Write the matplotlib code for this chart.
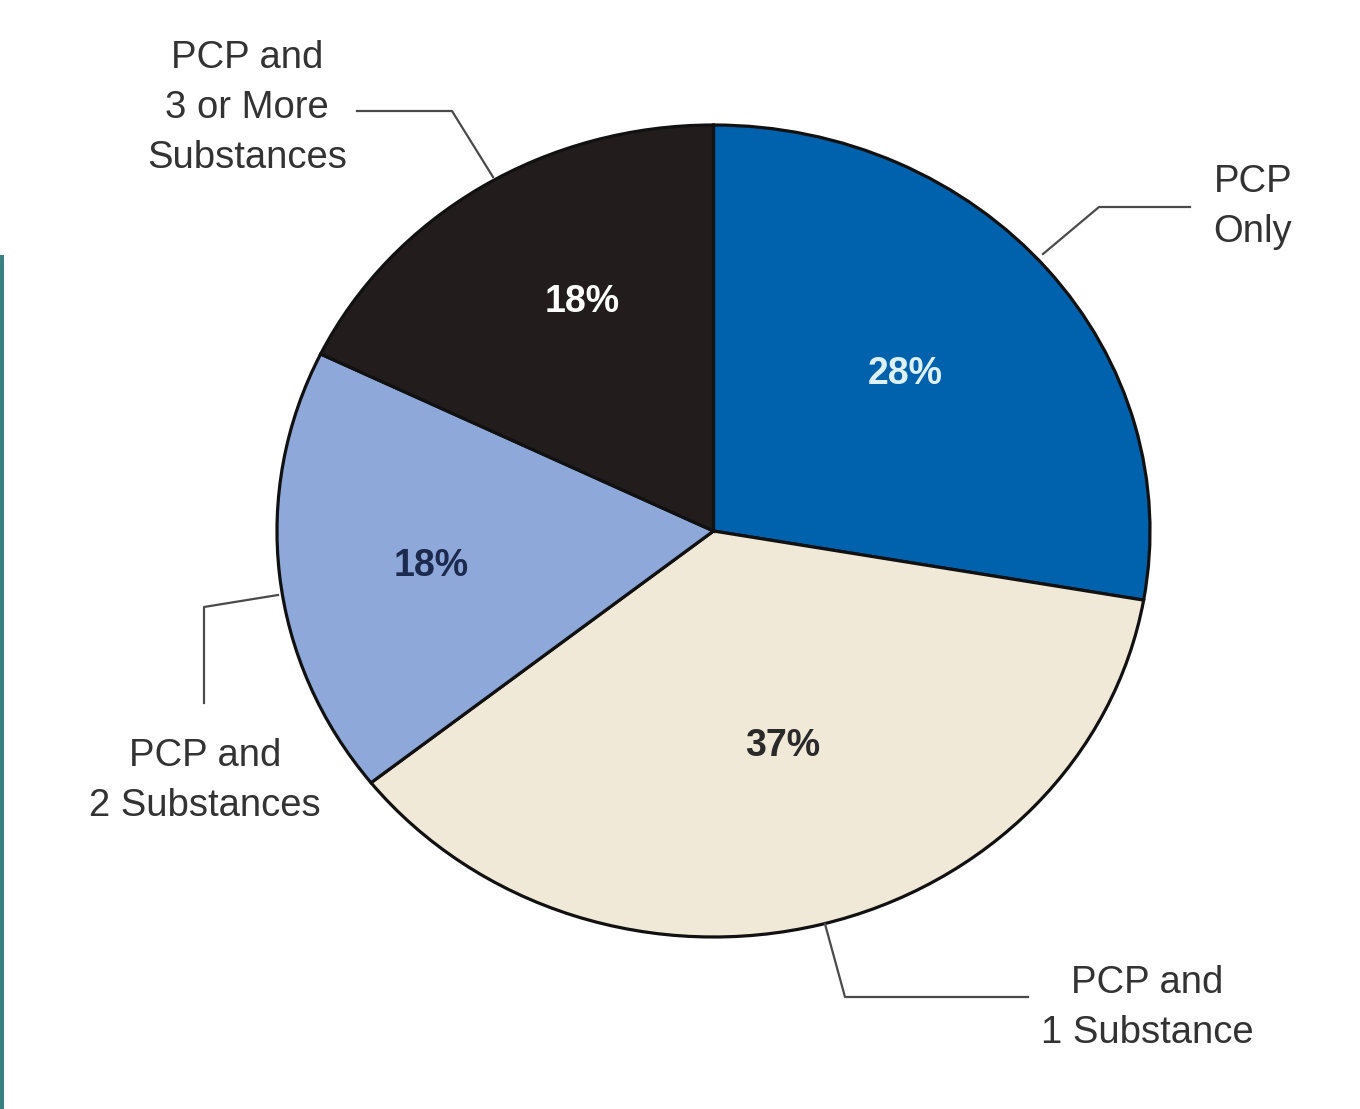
import matplotlib
matplotlib.use("Agg")
import matplotlib.pyplot as plt
import numpy as np
from matplotlib.patches import Rectangle

# ---- data ----
categories = ["PCP\nOnly", "PCP and\n1 Substance", "PCP and\n2 Substances",
              "PCP and\n3 or More\nSubstances"]
values = [28, 37, 18, 18]
pct_labels = ["28%", "37%", "18%", "18%"]
colors = ["#0061AD", "#F1E9D8", "#8EA8DA", "#221C1C"]
pct_colors = ["#DDF0FF", "#2A2A2A", "#1C2A4E", "#FFFFFF"]

W, H = 1360, 1109
fig = plt.figure(figsize=(W / 100, H / 100), dpi=100)
fig.patch.set_facecolor("white")

# pie centre and radii in pixels (the reference pie is slightly elliptical)
cx, cy, rx, ry = 713.5, 531, 436.5, 406
ax = fig.add_axes([0, 0, 1, 1])

wedges, _ = ax.pie(values, colors=colors, startangle=90, counterclock=False,
                   radius=1.0, center=(0, 0),
                   wedgeprops=dict(edgecolor="#111111", linewidth=2.3))
ax.set_xlim(-cx / rx, (W - cx) / rx)
ax.set_ylim(-(H - cy) / ry, cy / ry)
ax.set_aspect("auto")
ax.axis("off")

font = "Liberation Sans"
# percentage labels inside slices (radius fraction, angle nudge in degrees)
pct_r = [0.585, 0.553, 0.652, 0.64]
pct_da = [1.4, 2.3, 1.4, -4.0]
for w, lab, col, r, da in zip(wedges, pct_labels, pct_colors, pct_r, pct_da):
    mid = np.deg2rad((w.theta1 + w.theta2) / 2 + da)
    ax.text(r * np.cos(mid), r * np.sin(mid), lab, ha="center", va="center",
            fontsize=27, fontweight="bold", color=col, family=font)

def fx(x):
    return x / W

def fy(y):
    return 1 - y / H

# outer labels (pixel positions of text centres)
label_pos = [(1253, 207), (1147, 1008), (205, 781), (247, 108)]
for lab, (x, y) in zip(categories, label_pos):
    fig.text(fx(x), fy(y), lab, ha="center", va="center", fontsize=27.5,
             color="#333333", family=font, linespacing=1.5)

# leader lines
leaders = [
    [(1043, 254), (1099, 207), (1190, 207)],
    [(825, 924), (845, 997), (1028, 997)],
    [(278, 595), (204, 607), (204, 703)],
    [(357, 111), (452, 111), (493, 177)],
]
for pts in leaders:
    xs = [fx(p[0]) for p in pts]
    ys = [fy(p[1]) for p in pts]
    fig.add_artist(plt.Line2D(xs, ys, transform=fig.transFigure,
                              color="#4a4a4a", linewidth=1.6))

# teal left border
fig.add_artist(Rectangle((0, 0), fx(3.5), fy(255), transform=fig.transFigure,
                         facecolor="#3A7F82", edgecolor="none"))

fig.savefig("out.png", dpi=100, facecolor="white")
